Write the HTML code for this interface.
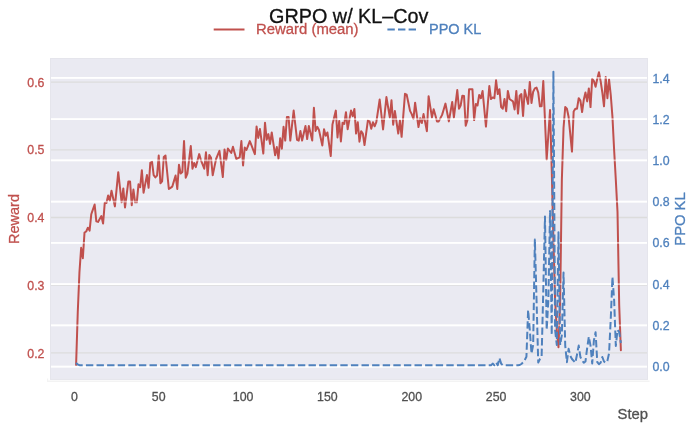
<!DOCTYPE html>
<html><head><meta charset="utf-8"><title>GRPO w/ KL-Cov</title>
<style>html,body{margin:0;padding:0;background:#fff;width:697px;height:431px;overflow:hidden}svg{display:block}</style>
</head><body>
<svg width="697" height="431" viewBox="0 0 697 431">
<rect x="50" y="58" width="598" height="321.8" fill="#EAEAF2"/>
<line x1="50" x2="648" y1="352.90" y2="352.90" stroke="#DCDCDC" stroke-width="1.3"/>
<line x1="50" x2="648" y1="285.20" y2="285.20" stroke="#DCDCDC" stroke-width="1.3"/>
<line x1="50" x2="648" y1="217.50" y2="217.50" stroke="#DCDCDC" stroke-width="1.3"/>
<line x1="50" x2="648" y1="149.80" y2="149.80" stroke="#DCDCDC" stroke-width="1.3"/>
<line x1="50" x2="648" y1="82.10" y2="82.10" stroke="#DCDCDC" stroke-width="1.3"/>
<line x1="50" x2="648" y1="366.56" y2="366.56" stroke="#FFFFFF" stroke-width="1.7"/>
<line x1="50" x2="648" y1="325.33" y2="325.33" stroke="#FFFFFF" stroke-width="1.7"/>
<line x1="50" x2="648" y1="284.09" y2="284.09" stroke="#FFFFFF" stroke-width="1.7"/>
<line x1="50" x2="648" y1="242.86" y2="242.86" stroke="#FFFFFF" stroke-width="1.7"/>
<line x1="50" x2="648" y1="201.62" y2="201.62" stroke="#FFFFFF" stroke-width="1.7"/>
<line x1="50" x2="648" y1="160.39" y2="160.39" stroke="#FFFFFF" stroke-width="1.7"/>
<line x1="50" x2="648" y1="119.16" y2="119.16" stroke="#FFFFFF" stroke-width="1.7"/>
<line x1="50" x2="648" y1="77.92" y2="77.92" stroke="#FFFFFF" stroke-width="1.7"/>
<polyline points="76.09,365.00 77.77,312.00 79.46,272.00 81.15,247.80 82.83,258.20 84.52,232.50 86.21,231.50 87.89,227.70 89.58,230.60 91.27,214.30 92.95,209.40 94.64,204.50 96.33,221.30 98.01,221.90 99.70,219.00 101.39,216.10 103.07,223.60 104.76,202.80 106.45,203.00 108.13,195.40 109.82,200.60 111.51,190.70 113.19,198.55 114.88,206.40 116.57,189.30 118.25,172.20 119.94,187.25 121.63,202.30 123.31,188.40 125.00,207.50 126.69,194.45 128.37,181.40 130.06,181.40 131.75,205.20 133.43,189.60 135.12,202.30 136.81,202.30 138.49,184.30 140.18,187.20 141.87,170.20 143.55,192.70 145.24,183.90 146.93,175.10 148.61,187.80 150.30,162.90 151.99,161.70 153.67,175.10 155.36,177.40 157.05,175.60 158.73,155.50 160.42,183.20 162.11,181.40 163.79,157.00 165.48,155.50 167.17,172.25 168.85,189.00 170.54,187.85 172.23,186.70 173.91,181.10 175.60,175.50 177.29,189.00 178.97,164.70 180.66,173.60 182.35,172.00 184.03,141.10 185.72,177.70 187.41,173.60 189.09,159.80 190.78,146.00 192.47,168.70 194.15,163.00 195.84,167.10 197.53,160.60 199.21,154.10 200.90,160.10 202.59,164.40 204.27,168.70 205.96,152.30 207.65,175.20 209.33,154.90 211.02,157.80 212.71,175.20 214.39,167.10 216.08,159.00 217.77,154.95 219.45,150.90 221.14,163.95 222.83,177.00 224.51,149.50 226.20,160.00 227.89,148.50 229.57,150.75 231.26,153.00 232.95,146.80 234.63,152.90 236.32,159.00 238.01,158.20 239.69,157.40 241.38,141.10 243.07,165.50 244.75,147.60 246.44,150.00 248.13,145.55 249.81,141.10 251.50,145.43 253.19,149.77 254.87,154.10 256.56,126.50 258.25,137.90 259.93,128.90 261.62,141.20 263.31,153.50 264.99,122.70 266.68,139.80 268.37,134.10 270.05,143.90 271.74,132.50 273.43,143.85 275.11,155.20 276.80,147.10 278.49,158.50 280.17,138.20 281.86,148.70 283.55,126.80 285.23,140.60 286.92,117.10 288.61,117.10 290.29,140.60 291.98,125.60 293.67,110.60 295.35,125.20 297.04,139.80 298.73,140.60 300.41,130.90 302.10,140.60 303.79,133.30 305.47,126.00 307.16,139.00 308.85,126.00 310.53,133.30 312.22,140.60 313.91,107.80 315.59,130.90 317.28,126.80 318.97,130.00 320.65,137.75 322.34,145.50 324.03,129.20 325.71,135.70 327.40,132.50 329.09,144.25 330.77,156.00 332.46,124.40 334.15,117.50 335.83,110.60 337.52,137.40 339.21,121.10 340.89,141.40 342.58,122.70 344.27,124.00 345.95,112.20 347.64,129.20 349.33,119.90 351.01,110.60 352.70,116.20 354.39,108.90 356.07,133.60 357.76,122.20 359.45,141.70 361.13,131.20 362.82,133.60 364.51,145.00 366.19,132.80 367.88,120.60 369.57,121.40 371.25,128.70 372.94,122.20 374.63,126.30 376.31,122.20 378.00,110.85 379.69,99.50 381.37,114.50 383.06,129.50 384.75,113.30 386.43,97.10 388.12,107.25 389.81,117.40 391.49,100.30 393.18,124.70 394.87,110.90 396.55,122.25 398.24,133.60 399.93,120.60 401.61,136.80 403.30,115.30 404.99,93.80 406.67,94.60 408.36,102.75 410.05,110.90 411.73,114.10 413.42,119.00 415.11,102.70 416.79,114.90 418.48,127.10 420.17,118.20 421.85,123.00 423.54,114.10 425.23,122.65 426.91,131.20 428.60,96.20 430.29,106.80 431.97,117.40 433.66,109.20 435.35,115.30 437.03,121.40 438.72,121.40 440.41,118.15 442.09,114.90 443.78,109.25 445.47,103.60 447.15,112.50 448.84,121.40 450.53,111.65 452.21,101.90 453.90,117.40 455.59,103.70 457.27,90.00 458.96,108.70 460.65,105.50 462.33,95.70 464.02,96.00 465.71,125.80 467.39,120.10 469.08,89.20 470.77,89.20 472.45,89.20 474.14,120.10 475.83,103.90 477.51,105.50 479.20,94.90 480.89,98.20 482.57,90.90 484.26,108.75 485.95,126.60 487.63,106.30 489.32,86.00 491.01,99.00 492.69,97.40 494.38,98.20 496.07,80.30 497.75,94.10 499.44,89.20 501.13,107.10 502.81,108.70 504.50,99.00 506.19,111.20 507.87,90.90 509.56,99.00 511.25,100.20 512.93,101.40 514.62,109.50 516.31,90.90 517.99,113.60 519.68,95.70 521.37,94.10 523.05,116.00 524.74,90.00 526.43,96.95 528.11,103.90 529.80,81.90 531.49,103.00 533.17,91.70 534.86,88.40 536.55,87.60 538.23,92.50 539.92,106.30 541.61,106.30 543.29,81.10 544.98,120.30 546.67,159.50 548.35,134.75 550.04,110.00 551.73,170.00 553.41,240.00 555.10,300.00 556.79,330.00 558.47,347.20 560.16,300.00 561.85,180.00 563.53,128.00 565.22,107.10 566.91,108.70 568.59,116.80 570.28,134.20 571.97,151.60 573.65,111.60 575.34,108.70 577.03,108.70 578.71,98.20 580.40,100.60 582.09,112.00 583.77,99.80 585.46,92.50 587.15,101.40 588.83,88.40 590.52,107.10 592.21,78.70 593.89,81.10 595.58,86.80 597.27,78.70 598.95,72.20 600.64,81.10 602.33,92.50 604.01,106.30 605.70,77.10 607.39,98.20 609.07,79.50 610.76,95.00 612.45,116.80 614.13,150.00 615.82,180.00 617.51,212.00 619.19,305.00 620.88,350.30" fill="none" stroke="#C0504D" stroke-width="2" stroke-linejoin="round" stroke-linecap="round"/>
<line x1="50" x2="648" y1="366.56" y2="366.56" stroke="#FFFFFF" stroke-opacity="0.55" stroke-width="1.7"/>
<line x1="50" x2="648" y1="325.33" y2="325.33" stroke="#FFFFFF" stroke-opacity="0.55" stroke-width="1.7"/>
<line x1="50" x2="648" y1="284.09" y2="284.09" stroke="#FFFFFF" stroke-opacity="0.55" stroke-width="1.7"/>
<line x1="50" x2="648" y1="242.86" y2="242.86" stroke="#FFFFFF" stroke-opacity="0.55" stroke-width="1.7"/>
<line x1="50" x2="648" y1="201.62" y2="201.62" stroke="#FFFFFF" stroke-opacity="0.55" stroke-width="1.7"/>
<line x1="50" x2="648" y1="160.39" y2="160.39" stroke="#FFFFFF" stroke-opacity="0.55" stroke-width="1.7"/>
<line x1="50" x2="648" y1="119.16" y2="119.16" stroke="#FFFFFF" stroke-opacity="0.55" stroke-width="1.7"/>
<line x1="50" x2="648" y1="77.92" y2="77.92" stroke="#FFFFFF" stroke-opacity="0.55" stroke-width="1.7"/>
<polyline points="76.09,362.90 77.77,364.50 79.46,365.20 81.15,365.20 82.83,365.20 84.52,365.20 86.21,365.20 87.89,365.20 89.58,365.20 91.27,365.20 92.95,365.20 94.64,365.20 96.33,365.20 98.01,365.20 99.70,365.20 101.39,365.20 103.07,365.20 104.76,365.20 106.45,365.20 108.13,365.20 109.82,365.20 111.51,365.20 113.19,365.20 114.88,365.20 116.57,365.20 118.25,365.20 119.94,365.20 121.63,365.20 123.31,365.20 125.00,365.20 126.69,365.20 128.37,365.20 130.06,365.20 131.75,365.20 133.43,365.20 135.12,365.20 136.81,365.20 138.49,365.20 140.18,365.20 141.87,365.20 143.55,365.20 145.24,365.20 146.93,365.20 148.61,365.20 150.30,365.20 151.99,365.20 153.67,365.20 155.36,365.20 157.05,365.20 158.73,365.20 160.42,365.20 162.11,365.20 163.79,365.20 165.48,365.20 167.17,365.20 168.85,365.20 170.54,365.20 172.23,365.20 173.91,365.20 175.60,365.20 177.29,365.20 178.97,365.20 180.66,365.20 182.35,365.20 184.03,365.20 185.72,365.20 187.41,365.20 189.09,365.20 190.78,365.20 192.47,365.20 194.15,365.20 195.84,365.20 197.53,365.20 199.21,365.20 200.90,365.20 202.59,365.20 204.27,365.20 205.96,365.20 207.65,365.20 209.33,365.20 211.02,365.20 212.71,365.20 214.39,365.20 216.08,365.20 217.77,365.20 219.45,365.20 221.14,365.20 222.83,365.20 224.51,365.20 226.20,365.20 227.89,365.20 229.57,365.20 231.26,365.20 232.95,365.20 234.63,365.20 236.32,365.20 238.01,365.20 239.69,365.20 241.38,365.20 243.07,365.20 244.75,365.20 246.44,365.20 248.13,365.20 249.81,365.20 251.50,365.20 253.19,365.20 254.87,365.20 256.56,365.20 258.25,365.20 259.93,365.20 261.62,365.20 263.31,365.20 264.99,365.20 266.68,365.20 268.37,365.20 270.05,365.20 271.74,365.20 273.43,365.20 275.11,365.20 276.80,365.20 278.49,365.20 280.17,365.20 281.86,365.20 283.55,365.20 285.23,365.20 286.92,365.20 288.61,365.20 290.29,365.20 291.98,365.20 293.67,365.20 295.35,365.20 297.04,365.20 298.73,365.20 300.41,365.20 302.10,365.20 303.79,365.20 305.47,365.20 307.16,365.20 308.85,365.20 310.53,365.20 312.22,365.20 313.91,365.20 315.59,365.20 317.28,365.20 318.97,365.20 320.65,365.20 322.34,365.20 324.03,365.20 325.71,365.20 327.40,365.20 329.09,365.20 330.77,365.20 332.46,365.20 334.15,365.20 335.83,365.20 337.52,365.20 339.21,365.20 340.89,365.20 342.58,365.20 344.27,365.20 345.95,365.20 347.64,365.20 349.33,365.20 351.01,365.20 352.70,365.20 354.39,365.20 356.07,365.20 357.76,365.20 359.45,365.20 361.13,365.20 362.82,365.20 364.51,365.20 366.19,365.20 367.88,365.20 369.57,365.20 371.25,365.20 372.94,365.20 374.63,365.20 376.31,365.20 378.00,365.20 379.69,365.20 381.37,365.20 383.06,365.20 384.75,365.20 386.43,365.20 388.12,365.20 389.81,365.20 391.49,365.20 393.18,365.20 394.87,365.20 396.55,365.20 398.24,365.20 399.93,365.20 401.61,365.20 403.30,365.20 404.99,365.20 406.67,365.20 408.36,365.20 410.05,365.20 411.73,365.20 413.42,365.20 415.11,365.20 416.79,365.20 418.48,365.20 420.17,365.20 421.85,365.20 423.54,365.20 425.23,365.20 426.91,365.20 428.60,365.20 430.29,365.20 431.97,365.20 433.66,365.20 435.35,365.20 437.03,365.20 438.72,365.20 440.41,365.20 442.09,365.20 443.78,365.20 445.47,365.20 447.15,365.20 448.84,365.20 450.53,365.20 452.21,365.20 453.90,365.20 455.59,365.20 457.27,365.20 458.96,365.20 460.65,365.20 462.33,365.20 464.02,365.20 465.71,365.20 467.39,365.20 469.08,365.20 470.77,365.20 472.45,365.20 474.14,365.20 475.83,365.20 477.51,365.20 479.20,365.20 480.89,365.20 482.57,365.20 484.26,365.20 485.95,365.20 487.63,365.20 489.32,365.20 491.01,365.20 492.69,363.60 494.38,365.20 496.07,362.50 497.75,365.20 499.44,358.00 501.13,363.60 502.81,365.20 504.50,365.20 506.19,365.20 507.87,365.20 509.56,365.20 511.25,365.20 512.93,365.20 514.62,365.20 516.31,365.20 517.99,365.20 519.68,365.00 521.37,364.00 523.05,362.50 524.74,360.00 526.43,356.80 528.11,310.00 529.80,330.00 531.49,353.60 533.17,345.00 534.86,239.40 536.55,300.00 538.23,362.50 539.92,359.00 541.61,357.00 543.29,290.00 544.98,216.50 546.67,330.00 548.35,300.00 550.04,211.00 551.73,335.00 553.41,71.70 555.10,330.00 556.79,345.00 558.47,232.30 560.16,345.00 561.85,335.00 563.53,272.50 565.22,345.60 566.91,362.20 568.59,348.80 570.28,355.80 571.97,359.00 573.65,360.90 575.34,362.80 577.03,354.50 578.71,345.60 580.40,357.00 582.09,360.30 583.77,362.80 585.46,361.50 587.15,348.20 588.83,336.70 590.52,345.60 592.21,363.50 593.89,340.50 595.58,332.20 597.27,362.20 598.95,364.10 600.64,362.80 602.33,357.00 604.01,361.50 605.70,362.80 607.39,360.90 609.07,353.20 610.76,318.80 612.45,277.00 614.13,300.00 615.82,346.00 617.51,330.00 619.19,332.00 620.88,343.00" fill="none" stroke="#4F81BD" stroke-width="2" stroke-dasharray="7.4 3.2" stroke-linejoin="round"/>
<rect x="50.5" y="58.5" width="597" height="320.9" fill="none" stroke="#E5E5EC" stroke-width="1"/>
<line x1="47" x2="649.6" y1="381.2" y2="381.2" stroke="#F3F3F3" stroke-width="1.4"/>
<line x1="47.6" x2="47.6" y1="378.6" y2="381.6" stroke="#F3F3F3" stroke-width="1.2"/>
<text transform="translate(348.80,22.60)" font-family="Liberation Sans, Arial, sans-serif" font-size="19.8" fill="#111" stroke="#111" stroke-width="0.3" text-anchor="middle">GRPO w/ KL–Cov</text>
<line x1="213.7" x2="244.5" y1="29.5" y2="29.5" stroke="#C0504D" stroke-width="2"/>
<text transform="translate(256.00,34.30) scale(1.0,1.03)" font-family="Liberation Sans, Arial, sans-serif" font-size="14.9" fill="#C0504D" stroke="#C0504D" stroke-width="0.3">Reward (mean)</text>
<line x1="387.4" x2="416.5" y1="29.5" y2="29.5" stroke="#4F81BD" stroke-width="2" stroke-dasharray="7.4 3.2"/>
<text transform="translate(429.00,34.10) scale(1.0,1.03)" font-family="Liberation Sans, Arial, sans-serif" font-size="14.5" fill="#4F81BD" stroke="#4F81BD" stroke-width="0.3">PPO KL</text>
<text transform="translate(74.40,401.20) scale(0.95,1.04)" font-family="Liberation Sans, Arial, sans-serif" font-size="13" fill="#505050" stroke="#505050" stroke-width="0.3" text-anchor="middle">0</text>
<text transform="translate(158.73,401.20) scale(0.95,1.04)" font-family="Liberation Sans, Arial, sans-serif" font-size="13" fill="#505050" stroke="#505050" stroke-width="0.3" text-anchor="middle">50</text>
<text transform="translate(243.07,401.20) scale(0.95,1.04)" font-family="Liberation Sans, Arial, sans-serif" font-size="13" fill="#505050" stroke="#505050" stroke-width="0.3" text-anchor="middle">100</text>
<text transform="translate(327.40,401.20) scale(0.95,1.04)" font-family="Liberation Sans, Arial, sans-serif" font-size="13" fill="#505050" stroke="#505050" stroke-width="0.3" text-anchor="middle">150</text>
<text transform="translate(411.73,401.20) scale(0.95,1.04)" font-family="Liberation Sans, Arial, sans-serif" font-size="13" fill="#505050" stroke="#505050" stroke-width="0.3" text-anchor="middle">200</text>
<text transform="translate(496.07,401.20) scale(0.95,1.04)" font-family="Liberation Sans, Arial, sans-serif" font-size="13" fill="#505050" stroke="#505050" stroke-width="0.3" text-anchor="middle">250</text>
<text transform="translate(580.40,401.20) scale(0.95,1.04)" font-family="Liberation Sans, Arial, sans-serif" font-size="13" fill="#505050" stroke="#505050" stroke-width="0.3" text-anchor="middle">300</text>
<text transform="translate(44.50,357.50) scale(0.95,1.04)" font-family="Liberation Sans, Arial, sans-serif" font-size="13" fill="#C0504D" stroke="#C0504D" stroke-width="0.3" text-anchor="end">0.2</text>
<text transform="translate(44.50,289.80) scale(0.95,1.04)" font-family="Liberation Sans, Arial, sans-serif" font-size="13" fill="#C0504D" stroke="#C0504D" stroke-width="0.3" text-anchor="end">0.3</text>
<text transform="translate(44.50,222.10) scale(0.95,1.04)" font-family="Liberation Sans, Arial, sans-serif" font-size="13" fill="#C0504D" stroke="#C0504D" stroke-width="0.3" text-anchor="end">0.4</text>
<text transform="translate(44.50,154.40) scale(0.95,1.04)" font-family="Liberation Sans, Arial, sans-serif" font-size="13" fill="#C0504D" stroke="#C0504D" stroke-width="0.3" text-anchor="end">0.5</text>
<text transform="translate(44.50,86.70) scale(0.95,1.04)" font-family="Liberation Sans, Arial, sans-serif" font-size="13" fill="#C0504D" stroke="#C0504D" stroke-width="0.3" text-anchor="end">0.6</text>
<text transform="translate(652.50,371.16) scale(0.95,1.04)" font-family="Liberation Sans, Arial, sans-serif" font-size="13" fill="#4F81BD" stroke="#4F81BD" stroke-width="0.3">0.0</text>
<text transform="translate(652.50,329.93) scale(0.95,1.04)" font-family="Liberation Sans, Arial, sans-serif" font-size="13" fill="#4F81BD" stroke="#4F81BD" stroke-width="0.3">0.2</text>
<text transform="translate(652.50,288.69) scale(0.95,1.04)" font-family="Liberation Sans, Arial, sans-serif" font-size="13" fill="#4F81BD" stroke="#4F81BD" stroke-width="0.3">0.4</text>
<text transform="translate(652.50,247.46) scale(0.95,1.04)" font-family="Liberation Sans, Arial, sans-serif" font-size="13" fill="#4F81BD" stroke="#4F81BD" stroke-width="0.3">0.6</text>
<text transform="translate(652.50,206.22) scale(0.95,1.04)" font-family="Liberation Sans, Arial, sans-serif" font-size="13" fill="#4F81BD" stroke="#4F81BD" stroke-width="0.3">0.8</text>
<text transform="translate(652.50,164.99) scale(0.95,1.04)" font-family="Liberation Sans, Arial, sans-serif" font-size="13" fill="#4F81BD" stroke="#4F81BD" stroke-width="0.3">1.0</text>
<text transform="translate(652.50,123.76) scale(0.95,1.04)" font-family="Liberation Sans, Arial, sans-serif" font-size="13" fill="#4F81BD" stroke="#4F81BD" stroke-width="0.3">1.2</text>
<text transform="translate(652.50,82.52) scale(0.95,1.04)" font-family="Liberation Sans, Arial, sans-serif" font-size="13" fill="#4F81BD" stroke="#4F81BD" stroke-width="0.3">1.4</text>
<text transform="translate(19.20,219.00) rotate(-90)" font-family="Liberation Sans, Arial, sans-serif" font-size="14.5" fill="#C0504D" stroke="#C0504D" stroke-width="0.3" text-anchor="middle">Reward</text>
<text transform="translate(685.00,219.00) rotate(-90)" font-family="Liberation Sans, Arial, sans-serif" font-size="14.8" fill="#4F81BD" stroke="#4F81BD" stroke-width="0.3" text-anchor="middle">PPO KL</text>
<text transform="translate(648.00,419.20)" font-family="Liberation Sans, Arial, sans-serif" font-size="14.8" fill="#505050" stroke="#505050" stroke-width="0.3" text-anchor="end">Step</text>
</svg>
</body></html>
